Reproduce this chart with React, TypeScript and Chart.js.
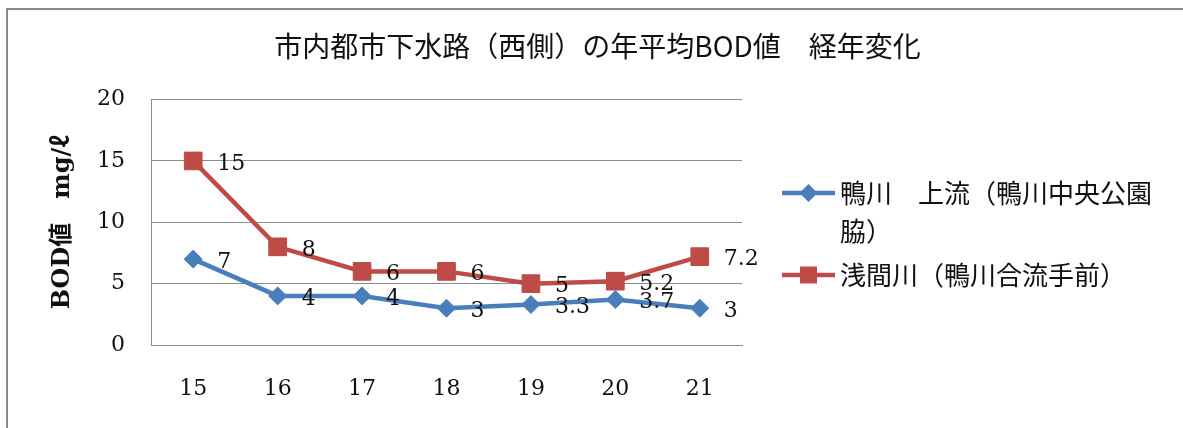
import React, { useEffect, useRef } from "react";
import { Chart, registerables } from "chart.js";

Chart.register(...registerables);

// ---- data ----
const CHART_TITLE = "市内都市下水路（西側）の年平均BOD値　経年変化";
const Y_AXIS_TITLE = "BOD値　mg/ℓ";
const YEARS = ["15", "16", "17", "18", "19", "20", "21"];
const KAMOGAWA_LABEL = "鴨川　上流（鴨川中央公園脇）";
const KAMOGAWA_VALUES = [7, 4, 4, 3, 3.3, 3.7, 3];
const ASAMA_LABEL = "浅間川（鴨川合流手前）";
const ASAMA_VALUES = [15, 8, 6, 6, 5, 5.2, 7.2];
const Y_MIN = 0;
const Y_MAX = 20;
const Y_STEP = 5;

const BLUE = "#4a7ebb";
const RED = "#be4b48";
const GRID = "#8c8c8c";
const SERIF = '"DejaVu Serif", "Noto Sans CJK JP", serif';
const CJK = '"Noto Sans CJK JP", sans-serif';

function drawMarker(ctx: CanvasRenderingContext2D, style: string, x: number, y: number, color: string) {
  ctx.save();
  ctx.fillStyle = color;
  ctx.beginPath();
  if (style === "rectRot") {
    const r = 9;
    ctx.moveTo(x, y - r);
    ctx.lineTo(x + r, y);
    ctx.lineTo(x, y + r);
    ctx.lineTo(x - r, y);
    ctx.closePath();
  } else {
    const s = 8.5;
    ctx.rect(x - s, y - s, 2 * s, 2 * s);
  }
  ctx.fill();
  ctx.restore();
}

const valueLabelPlugin = {
  id: "valueLabels",
  afterDatasetsDraw(chart: any) {
    const ctx = chart.ctx as CanvasRenderingContext2D;
    ctx.save();
    ctx.font = `22px ${SERIF}`;
    ctx.fillStyle = "#111";
    ctx.textAlign = "left";
    ctx.textBaseline = "middle";
    chart.data.datasets.forEach((ds: any, i: number) => {
      const meta = chart.getDatasetMeta(i);
      meta.data.forEach((pt: any, j: number) => {
        ctx.fillText(String(ds.data[j]), pt.x + 24, pt.y + 3);
      });
    });
    ctx.restore();
  },
};

const sideLegendPlugin = {
  id: "sideLegend",
  afterDraw(chart: any) {
    const ctx = chart.ctx as CanvasRenderingContext2D;
    const area = chart.chartArea;
    const lineX0 = area.right + 40;
    const lineX1 = area.right + 93;
    const textX = area.right + 98;
    const maxW = 330;
    const lineH = 38;
    let y = 193;
    ctx.save();
    ctx.font = `26px ${CJK}`;
    ctx.textAlign = "left";
    ctx.textBaseline = "middle";
    chart.data.datasets.forEach((ds: any) => {
      const lines: string[] = [];
      let cur = "";
      for (const ch of Array.from(ds.label as string)) {
        if (cur && ctx.measureText(cur + ch).width > maxW) {
          lines.push(cur);
          cur = ch;
        } else {
          cur += ch;
        }
      }
      lines.push(cur);
      ctx.strokeStyle = ds.borderColor;
      ctx.lineWidth = 4.5;
      ctx.beginPath();
      ctx.moveTo(lineX0, y);
      ctx.lineTo(lineX1, y);
      ctx.stroke();
      drawMarker(ctx, ds.pointStyle, (lineX0 + lineX1) / 2, y, ds.pointBackgroundColor);
      ctx.fillStyle = "#111";
      lines.forEach((l, k) => ctx.fillText(l, textX, y + k * lineH));
      y += lines.length * lineH + 6;
    });
    ctx.restore();
  },
};

export default function App() {
  const canvasRef = useRef<HTMLCanvasElement | null>(null);

  useEffect(() => {
    if (!canvasRef.current) return;
    const chart = new Chart(canvasRef.current, {
      type: "line",
      data: {
        labels: YEARS,
        datasets: [
          {
            label: KAMOGAWA_LABEL,
            data: KAMOGAWA_VALUES,
            borderColor: BLUE,
            backgroundColor: BLUE,
            pointBackgroundColor: BLUE,
            pointBorderColor: BLUE,
            pointStyle: "rectRot",
            pointRadius: 9,
            pointBorderWidth: 1,
            borderWidth: 4.5,
            tension: 0,
          },
          {
            label: ASAMA_LABEL,
            data: ASAMA_VALUES,
            borderColor: RED,
            backgroundColor: RED,
            pointBackgroundColor: RED,
            pointBorderColor: RED,
            pointStyle: "rect",
            pointRadius: 12.5,
            pointBorderWidth: 1,
            borderWidth: 4.5,
            tension: 0,
          },
        ],
      },
      options: {
        animation: false,
        responsive: true,
        maintainAspectRatio: false,
        layout: { padding: { left: 12, right: 0, top: 0, bottom: 0 } },
        plugins: {
          legend: { display: false },
          tooltip: { enabled: false },
          title: {
            display: true,
            text: CHART_TITLE,
            color: "#111",
            font: { family: CJK, size: 28, weight: "normal" },
            padding: { top: 30, bottom: 36 },
          },
        },
        scales: {
          x: {
            offset: true,
            grid: { display: false, drawTicks: false },
            border: { display: true, color: GRID, width: 1 },
            ticks: {
              color: "#111",
              font: { family: SERIF, size: 22 },
              padding: 31,
            },
            afterFit: (scale: any) => {
              scale.height = 83;
            },
          },
          y: {
            min: Y_MIN,
            max: Y_MAX,
            ticks: {
              stepSize: Y_STEP,
              color: "#111",
              font: { family: SERIF, size: 22 },
              padding: 26,
            },
            grid: { color: GRID, drawTicks: false, lineWidth: 1 },
            border: { display: true, color: GRID, width: 1 },
            title: {
              display: true,
              text: Y_AXIS_TITLE,
              color: "#111",
              font: { family: SERIF, size: 24, weight: "bold" },
              padding: { top: 36, bottom: 0 },
            },
            afterFit: (scale: any) => {
              scale.width = 139;
            },
          },
          legendSpace: {
            type: "linear",
            position: "right",
            display: true,
            grid: { display: false, drawTicks: false },
            border: { display: false },
            ticks: { display: false },
            afterFit: (scale: any) => {
              scale.width = 441;
            },
          },
        },
      },
      plugins: [valueLabelPlugin, sideLegendPlugin],
    } as any);
    return () => chart.destroy();
  }, []);

  return (
    <div style={{ position: "fixed", left: 0, top: 0, width: 1183, height: 428, background: "#fff" }}>
      <div
        style={{
          position: "absolute",
          left: 6,
          top: 8,
          right: 0,
          bottom: 0,
          borderLeft: "2px solid #8a8a8a",
          borderTop: "2px solid #8a8a8a",
        }}
      />
      <canvas ref={canvasRef} style={{ position: "absolute", left: 0, top: 0 }} />
    </div>
  );
}
